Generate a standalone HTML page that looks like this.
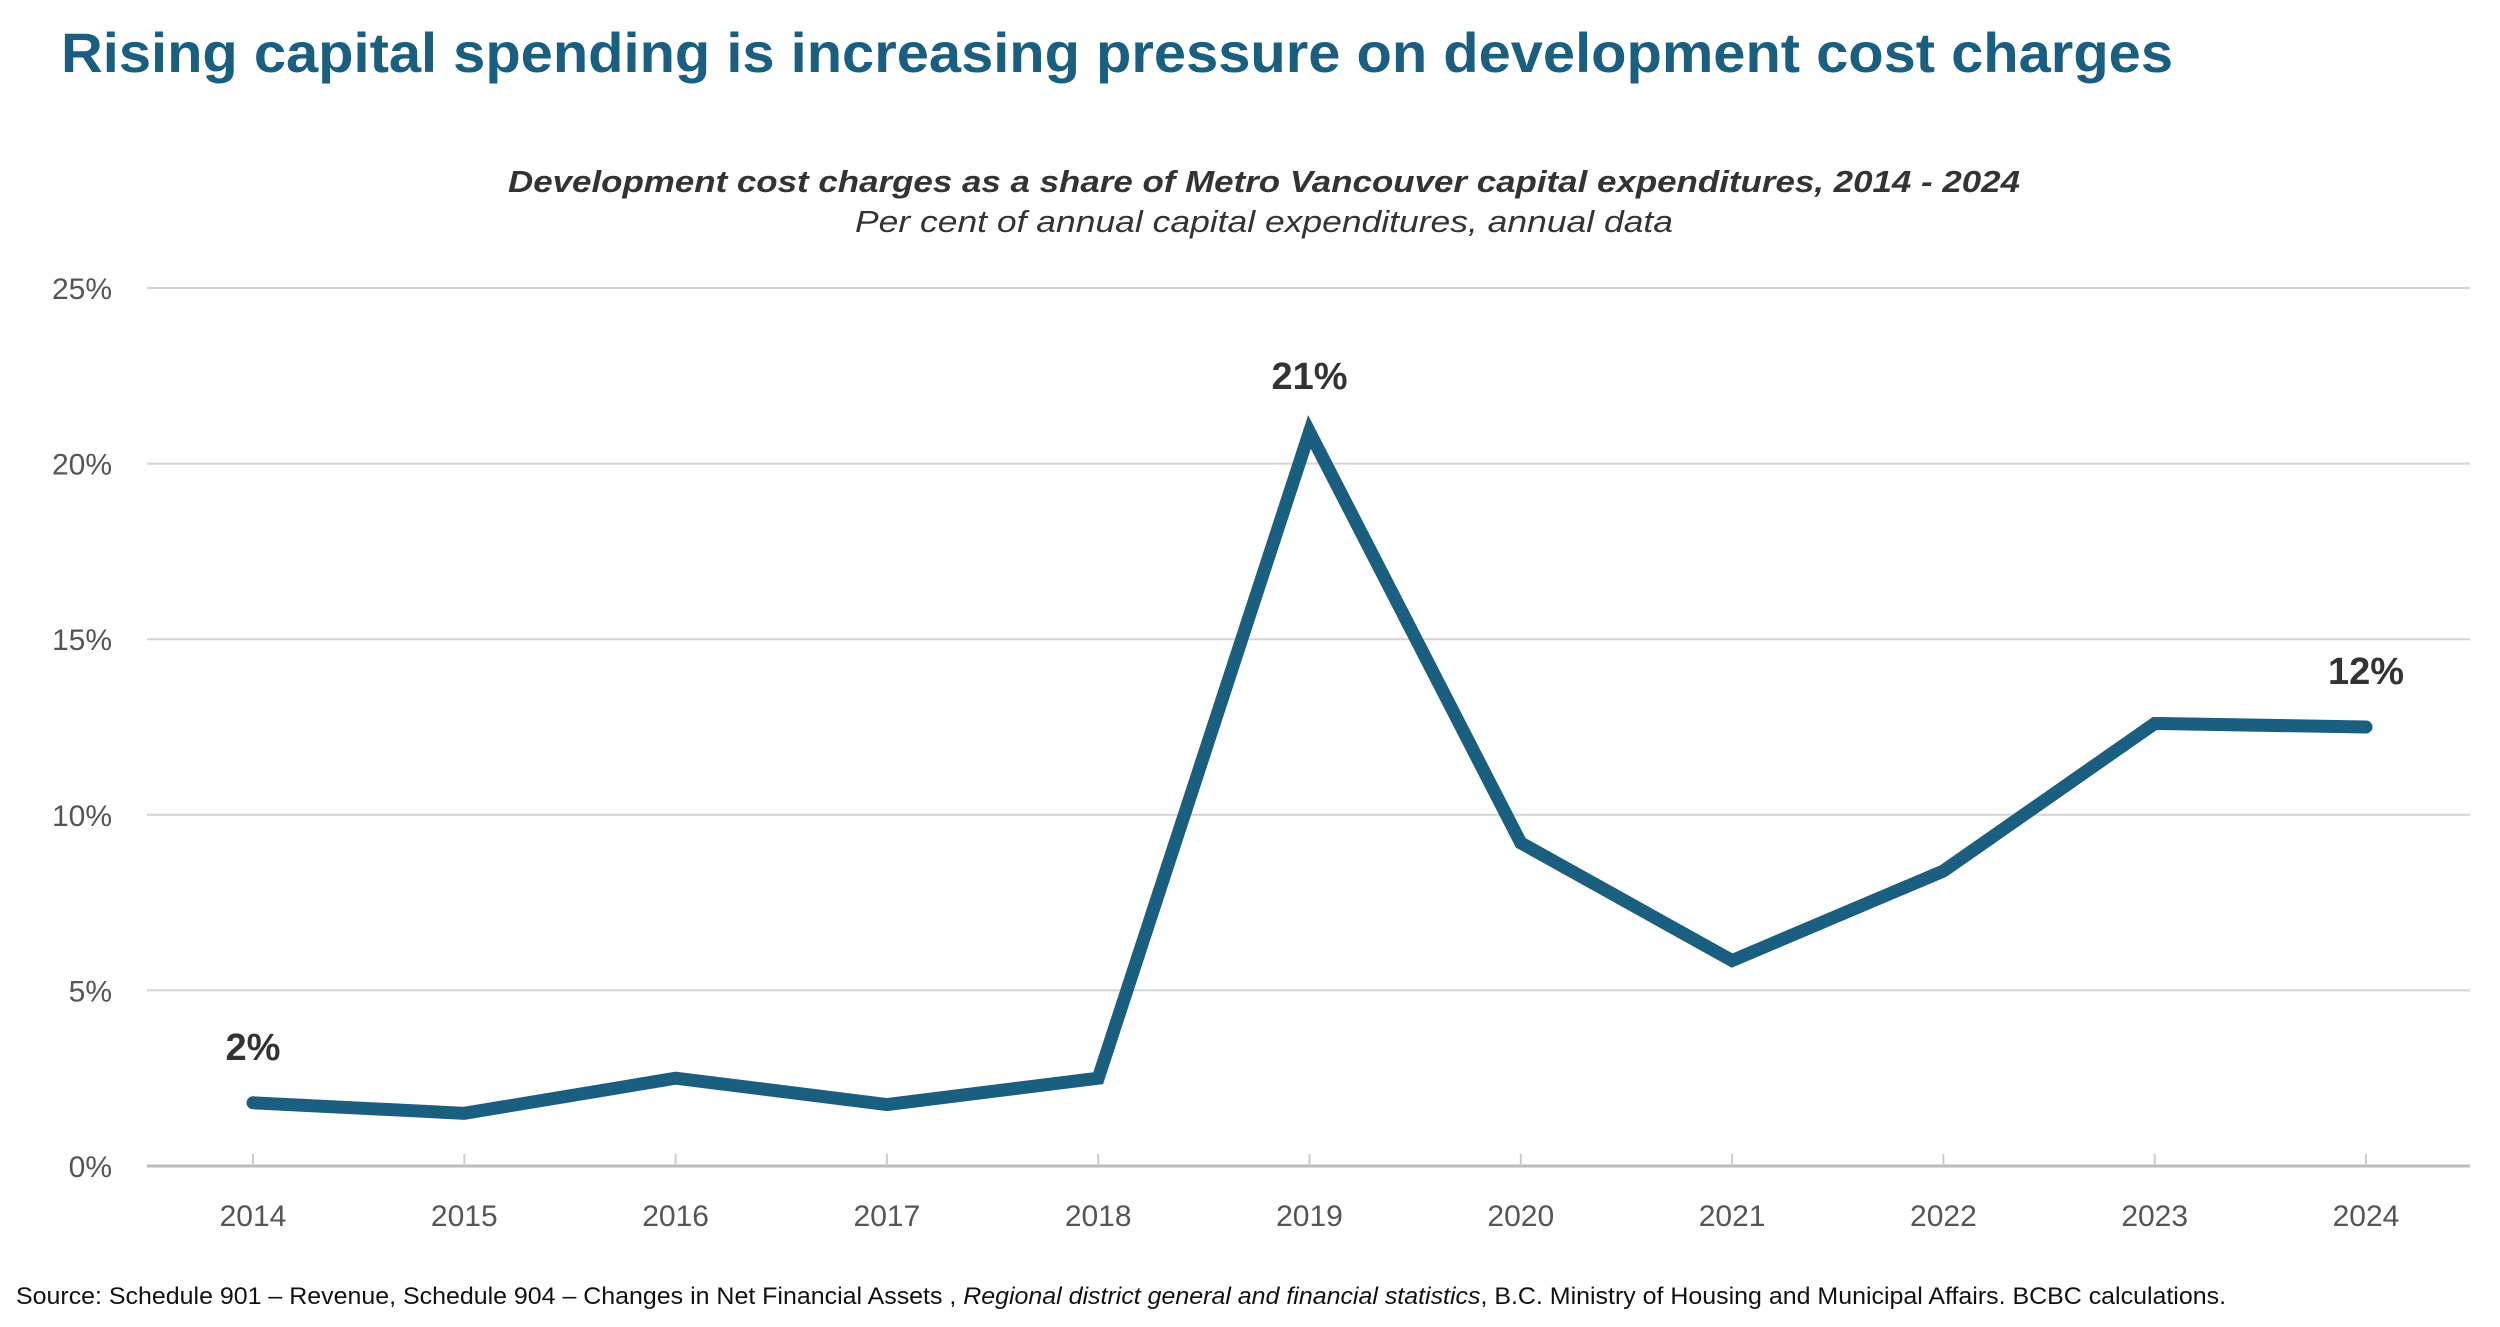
<!DOCTYPE html>
<html><head><meta charset="utf-8"><style>
html,body{margin:0;padding:0;background:#fff;}
svg{display:block;font-family:"Liberation Sans",sans-serif;}
</style></head><body>
<svg id="chart" width="2500" height="1327" viewBox="0 0 2500 1327">
<text x="61" y="72" font-size="56" font-weight="bold" fill="#1a5f80" textLength="2112" lengthAdjust="spacingAndGlyphs">Rising capital spending is increasing pressure on development cost charges</text>
<text x="1264" y="192" font-size="31" font-weight="bold" font-style="italic" fill="#333" text-anchor="middle" textLength="1512" lengthAdjust="spacingAndGlyphs">Development cost charges as a share of Metro Vancouver capital expenditures, 2014 - 2024</text>
<text x="1264" y="232" font-size="31" font-style="italic" fill="#333" text-anchor="middle" textLength="818" lengthAdjust="spacingAndGlyphs">Per cent of annual capital expenditures, annual data</text>
<g id="grid"></g><g id="xaxis"></g><g id="series"></g>
<text x="16" y="1304" font-size="24" fill="#111" textLength="2210" lengthAdjust="spacingAndGlyphs">Source: Schedule 901 – Revenue, Schedule 904 – Changes in Net Financial Assets , <tspan font-style="italic">Regional district general and financial statistics</tspan>, B.C. Ministry of Housing and  Municipal Affairs. BCBC calculations.</text>
</svg>
<script>
const years = ["2014","2015","2016","2017","2018","2019","2020","2021","2022","2023","2024"];
const values = [1.8,1.5,2.5,1.75,2.5,20.9,9.2,5.85,8.4,12.6,12.5];
const yTicks = [0,5,10,15,20,25];
const yTickLabels = ["0%","5%","10%","15%","20%","25%"];
const labelIdx = [0,5,10];
const labelText = ["2%","21%","12%"];
const NS="http://www.w3.org/2000/svg";
const y0=1166,y1=288,x0=253,x1=2366,gl=147,gr=2470;
const ys=v=>y0-(v/25)*(y0-y1);
const xs=i=>x0+i*(x1-x0)/(years.length-1);
function mk(t,a,p){const e=document.createElementNS(NS,t);for(const k in a)e.setAttribute(k,a[k]);p.appendChild(e);return e;}
const grid=document.getElementById('grid'),xa=document.getElementById('xaxis'),se=document.getElementById('series');
yTicks.forEach((v,i)=>{
 const l=mk('line',{x1:gl,x2:gr,y1:ys(v),y2:ys(v),stroke:v===0?'#bbb':'#d4d4d4','stroke-width':v===0?3:2},grid);
 
 
 const t=mk('text',{x:112,y:ys(v)+11,'font-size':30,fill:'#555','text-anchor':'end'},grid);
 t.textContent=yTickLabels[i];
 
 
});
years.forEach((yr,i)=>{
 const k=mk('line',{x1:xs(i),x2:xs(i),y1:y0-12,y2:y0,stroke:'#ccc','stroke-width':2},xa);
 
 
 const t=mk('text',{x:xs(i),y:1226,'font-size':30,fill:'#555','text-anchor':'middle'},xa);
 t.textContent=yr;
 
 
});
const pl=mk('polyline',{points:values.map((v,i)=>xs(i)+','+ys(v)).join(' '),fill:'none',stroke:'#1a5f80','stroke-width':13,'stroke-linejoin':'miter','stroke-linecap':'round'},se);


labelIdx.forEach((idx,j)=>{
 const t=mk('text',{x:xs(idx),y:ys(values[idx])-43,'font-size':38,'font-weight':'bold',fill:'#333','text-anchor':'middle'},se);
 t.textContent=labelText[j];
 
 
});
</script>
</body></html>
